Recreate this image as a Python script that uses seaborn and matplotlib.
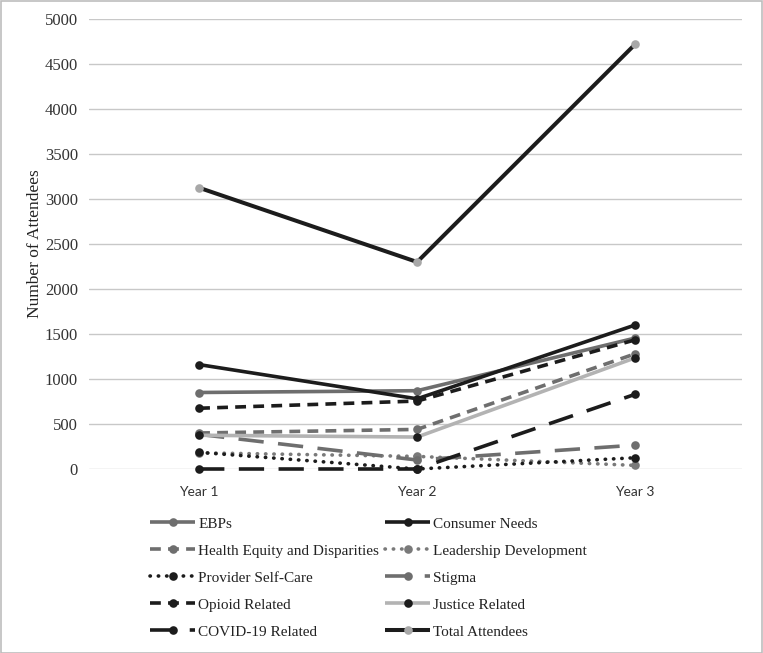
import matplotlib
matplotlib.use("Agg")
import matplotlib.pyplot as plt
import seaborn as sns
import pandas as pd
from matplotlib.patches import Rectangle

years = ["Year 1", "Year 2", "Year 3"]
ebps = [850, 870, 1455]
consumer_needs = [1160, 780, 1600]
health_equity = [400, 440, 1280]
leadership = [180, 140, 40]
provider_self_care = [185, 0, 125]
stigma = [385, 100, 265]
opioid = [675, 755, 1435]
justice = [375, 355, 1235]
covid = [0, 0, 830]
total = [3125, 2300, 4720]

series_names = ["EBPs", "Consumer Needs", "Health Equity and Disparities",
                "Leadership Development", "Provider Self-Care", "Stigma",
                "Opioid Related", "Justice Related", "COVID-19 Related",
                "Total Attendees"]
series_values = [ebps, consumer_needs, health_equity, leadership,
                 provider_self_care, stigma, opioid, justice, covid, total]

BLACK = "#1c1c1c"
GRAY = "#6e6e6e"
LGRAY = "#b3b3b3"
MGRAY = "#a8a8a8"

styles = {
    "EBPs": dict(color=GRAY, ls="-", mfc=GRAY),
    "Consumer Needs": dict(color=BLACK, ls="-", mfc=BLACK),
    "Health Equity and Disparities": dict(color=GRAY, ls=(0, (3, 2)), mfc=GRAY),
    "Leadership Development": dict(color="#7a7a7a", ls=(0, (0.1, 2.2)), mfc="#7a7a7a", cap="round"),
    "Provider Self-Care": dict(color=BLACK, ls=(0, (0.1, 2.2)), mfc=BLACK, cap="round"),
    "Stigma": dict(color=GRAY, ls=(0, (7, 4)), mfc=GRAY),
    "Opioid Related": dict(color=BLACK, ls=(0, (3, 2)), mfc=BLACK),
    "Justice Related": dict(color=LGRAY, ls="-", mfc=BLACK),
    "COVID-19 Related": dict(color=BLACK, ls=(0, (7, 4)), mfc=BLACK),
    "Total Attendees": dict(color=BLACK, ls="-", mfc=MGRAY),
}

sns.set_theme(style="white")
plt.rcParams["font.family"] = ["Liberation Serif", "DejaVu Serif"]

fig = plt.figure(figsize=(7.63, 6.53), dpi=100)
ax = fig.add_axes([89 / 763, 1 - 469 / 653, 653 / 763, 450 / 653])

handles = {}
for name, vals in zip(series_names, series_values):
    st = styles[name]
    df = pd.DataFrame({"Year": years, "Attendees": vals})
    sns.lineplot(data=df, x="Year", y="Attendees", ax=ax, color=st["color"],
                 linestyle=st["ls"], linewidth=2.6 if name != "Total Attendees" else 2.9,
                 marker="o", markersize=6.2, markerfacecolor=st["mfc"],
                 markeredgecolor=st["mfc"], markeredgewidth=0,
                 dash_capstyle=st.get("cap", "butt"), solid_capstyle="butt",
                 label=name, legend=False, sort=False, clip_on=False)
    handles[name] = ax.get_lines()[-1]

ax.set_xlim(-0.505, 2.49)
ax.set_ylim(0, 5000)
ax.set_yticks(range(0, 5001, 500))
ax.yaxis.grid(True, color="#c8c8c8", linewidth=1)
ax.xaxis.grid(False)
ax.set_axisbelow(True)
for s in ax.spines.values():
    s.set_visible(False)
ax.tick_params(axis="y", length=0, pad=8, labelsize=12, colors="#333333")
ax.tick_params(axis="x", length=0, pad=12, colors="#333333")
for lab in ax.get_xticklabels():
    lab.set_family(["Lato", "DejaVu Sans"])
    lab.set_fontsize(10)
ax.set_xlabel("")
ax.set_ylabel("Number of Attendees", fontsize=12.5, color="#222222", labelpad=1)

col1 = ["EBPs", "Health Equity and Disparities", "Provider Self-Care",
        "Opioid Related", "COVID-19 Related"]
col2 = ["Consumer Needs", "Leadership Development", "Stigma",
        "Justice Related", "Total Attendees"]
for col, x0 in ((col1, 150), (col2, 385)):
    fig.legend([handles[n] for n in col], col, loc="upper left",
               bbox_to_anchor=(x0 / 763, 1 - 517 / 653), frameon=False,
               fontsize=11, handlelength=2.95, handletextpad=0.22,
               labelspacing=0.87, borderpad=0, borderaxespad=0,
               labelcolor="#222222")

fig.patches.append(Rectangle((0.5 / 763, 0.5 / 653), 1 - 1.5 / 763, 1 - 1.5 / 653,
                             transform=fig.transFigure, fill=False,
                             edgecolor="#bdbdbd", linewidth=1.2))

fig.savefig("out.png", dpi=100)
